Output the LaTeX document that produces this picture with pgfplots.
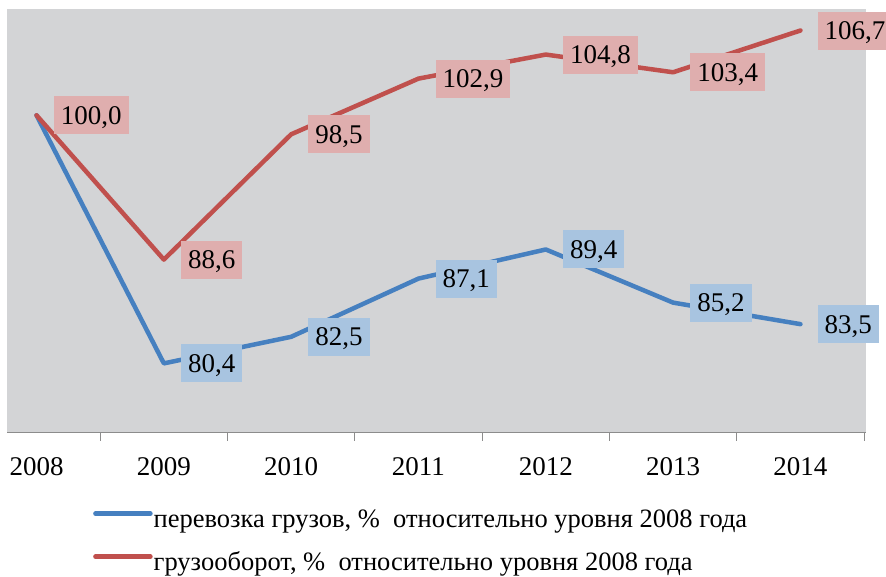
\documentclass[border=0pt]{standalone}
\usepackage{fontspec}
\setmainfont{Liberation Serif}
\usepackage{pgfplots}
\pgfplotsset{compat=1.18}
\definecolor{bgc}{RGB}{211,212,214}
\definecolor{bl}{RGB}{70,128,192}
\definecolor{rd}{RGB}{192,80,77}
\definecolor{blf}{RGB}{168,196,224}
\definecolor{rdf}{RGB}{223,174,174}
\definecolor{axc}{RGB}{140,140,140}
\begin{document}
\begin{tikzpicture}
\clip (0,0) rectangle (886pt,577pt);
\begin{axis}[
  at={(7pt,144pt)}, anchor=south west,
  scale only axis, width=859pt, height=424pt,
  xmin=-0.232, xmax=6.515, ymin=74.9, ymax=108.4,
  axis background/.style={fill=bgc},
  axis x line*=bottom, axis y line=none,
  axis line style={axc, line width=1pt},
  xtick={0,...,6},
  xticklabels={2008,2009,2010,2011,2012,2013,2014},
  minor xtick={0.5,1.5,...,6.5},
  major tick length=0pt, minor tick length=8pt,
  tick align=outside,
  minor tick style={axc, line width=1pt},
  xticklabel style={font=\fontsize{27}{32}\selectfont, anchor=north, inner sep=0pt, text height=18pt, text depth=0pt, yshift=-24pt},
  /pgf/number format/assume math mode=true,
  /pgf/number format/.cd, use comma, fixed, fixed zerofill, precision=1, /pgfplots/.cd,
  nodes near coords,
  every node near coord/.append style={anchor=west, xshift=15pt, inner xsep=7pt, inner ysep=0pt, minimum height=38pt, text height=18pt, text depth=0pt, font=\fontsize{27}{32}\selectfont, text=black},
  legend image code/.code={\draw[#1] (0pt,7pt) -- (55pt,7pt);},
  legend style={at={(rel axis cs:0.1001,-0.177)}, anchor=north west, draw=none, fill=none, inner sep=0pt, column sep=1pt, row sep=18pt,
    nodes={inner sep=0pt, text height=19pt, text depth=6pt}, font=\fontsize{26.5}{30}\selectfont},
  legend cell align=left,
]
\addplot[bl, line width=4.5pt, line join=round, line cap=round, every node near coord/.append style={fill=blf}] coordinates {
(0,100.0) (1,80.4) (2,82.5) (3,87.1) (4,89.4) (5,85.2) (6,83.5)};
\addlegendentry{перевозка грузов, \%\ \ относительно уровня 2008 года}
\addplot[rd, line width=4.5pt, line join=round, line cap=round, every node near coord/.append style={fill=rdf}] coordinates {
(0,100.0) (1,88.6) (2,98.5) (3,102.9) (4,104.8) (5,103.4) (6,106.7)};
\addlegendentry{грузооборот, \%\ \ относительно уровня 2008 года}
\end{axis}
\end{tikzpicture}
\end{document}
